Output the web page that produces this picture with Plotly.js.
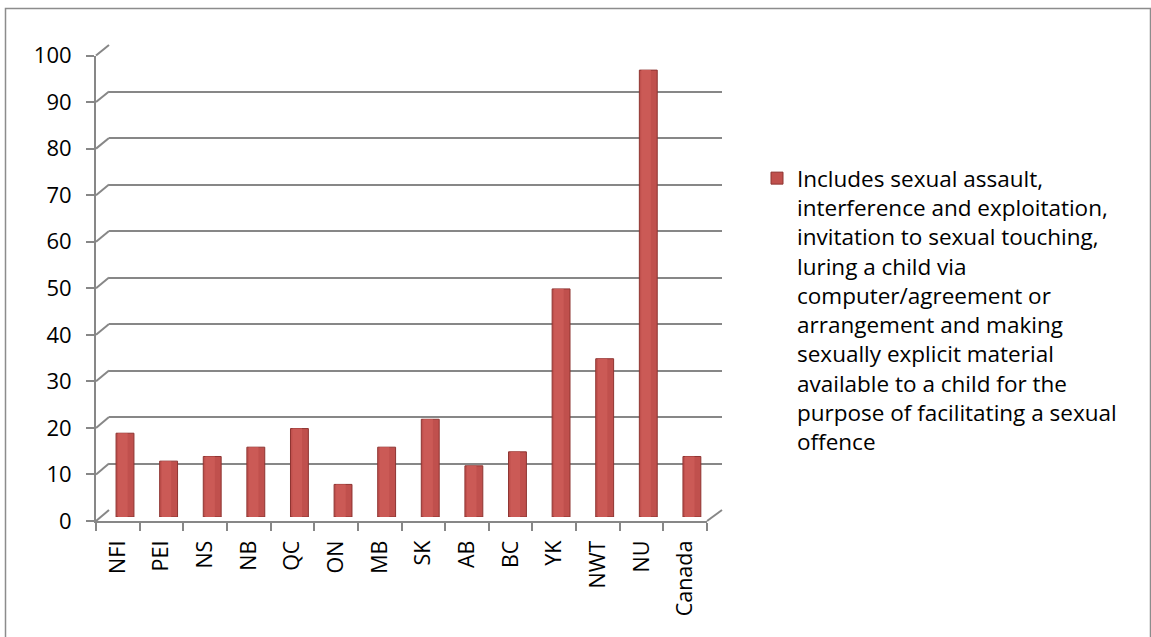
<!DOCTYPE html>
<html>
<head>
<meta charset="utf-8">
<script src="https://cdn.plot.ly/plotly-3.0.1.min.js"></script>
<style>html,body{margin:0;padding:0;background:#fff;}#chart{width:1151px;height:637px;}</style>
</head>
<body>
<div id="chart"></div>
<script>
// ---- data ----
var categories = ["NFI","PEI","NS","NB","QC","ON","MB","SK","AB","BC","YK","NWT","NU","Canada"];
var values = [18, 12, 13, 15, 19, 7, 15, 21, 11, 14, 49, 34, 96, 13];
var seriesName = "Includes sexual assault,<br>interference and exploitation,<br>invitation to sexual touching,<br>luring a child via<br>computer/agreement or<br>arrangement and making<br>sexually explicit material<br>available to a child for the<br>purpose of facilitating a sexual<br>offence";
var yTicks = [0,10,20,30,40,50,60,70,80,90,100];

// ---- layout helpers (pixel -> paper) ----
var W = 1151, H = 637;
function px(x){ return x / W; }
function py(y){ return 1 - y / H; }
var FONT = "Open Sans, Liberation Sans, sans-serif";
var GRID = "#878787";

var idx = categories.map(function(c,i){return i;});

var traces = [
  // helper (invisible) trace for the front axis
  {x: idx, y: values, xaxis:"x", yaxis:"y", type:"scatter", mode:"markers",
   marker:{opacity:0}, showlegend:false, hoverinfo:"skip"},
  // helper (invisible) trace for back wall
  {x: idx, y: values, xaxis:"x2", yaxis:"y2", type:"scatter", mode:"markers",
   marker:{opacity:0}, showlegend:false, hoverinfo:"skip"},
  // cylinder body
  {x: idx, y: values, xaxis:"x3", yaxis:"y3", type:"bar", name: seriesName,
   width: 0.41, marker:{color:"#C0504D", line:{color:"#8E3431", width:1}},
   hoverinfo:"x+y"},
  // cylinder highlight
  {x: idx, y: values, xaxis:"x3", yaxis:"y3", type:"bar", showlegend:false,
   width: 0.22, offset: -0.16, marker:{color:"#CB5A56", line:{width:0}}, hoverinfo:"skip"}
];

// decorative 3D connectors
var shapes = [];
var frontY0 = 521, frontY100 = 55.5, backY0 = 510, backY100 = 45;
yTicks.forEach(function(t){
  var yf = frontY0 + (frontY100-frontY0)*t/100;
  var yb = backY0 + (backY100-backY0)*t/100;
  shapes.push({type:"line", xref:"paper", yref:"paper",
    x0:px(96), y0:py(yf), x1:px(109), y1:py(yb), line:{color:GRID, width:2}});
});
shapes.push({type:"line", xref:"paper", yref:"paper",
  x0:px(707), y0:py(frontY0), x1:px(722), y1:py(backY0), line:{color:GRID, width:2}});
// outer chart border
shapes.push({type:"rect", xref:"paper", yref:"paper",
  x0:px(5.5), y0:py(645), x1:px(1150.5), y1:py(8.5), line:{color:"#8C8C8C", width:1.5}});

var layout = {
  width: W, height: H,
  margin:{l:0, r:0, t:0, b:0},
  paper_bgcolor:"#ffffff", plot_bgcolor:"rgba(0,0,0,0)",
  barmode:"overlay",
  font:{family:FONT, size:22, color:"#000"},
  showlegend:true,
  legend:{x:px(757), y:py(157), xanchor:"left", yanchor:"top", valign:"top",
    font:{family:FONT, size:22.5, color:"#000"}, bgcolor:"rgba(0,0,0,0)", borderwidth:0,
    tracegroupgap:0},
  // front axes
  xaxis:{domain:[px(96), px(707)], anchor:"y", type:"linear", range:[-0.5, 13.5],
    tickmode:"array", tickvals: idx, ticktext: categories, tickangle:-90,
    ticks:"", showgrid:false, zeroline:false, showline:true, linecolor:GRID, linewidth:2,
    tickfont:{family:FONT, size:21.5, color:"#000"},
    minor:{tickmode:"array", tickvals: idx.concat([categories.length]).map(function(i){return i-0.5;}),
      ticks:"outside", ticklen:8, tickcolor:GRID, tickwidth:2, showgrid:false},
    ticklabelstandoff:9, fixedrange:true},
  yaxis:{domain:[py(frontY0), py(frontY100)], anchor:"x", range:[0,100],
    tickmode:"array", tickvals: yTicks, ticks:"outside", ticklen:8, tickcolor:GRID, tickwidth:2,
    tickfont:{family:FONT, size:22, color:"#000"},
    showgrid:false, zeroline:false, showline:true, linecolor:GRID, linewidth:2,
    ticklabelstandoff:10, fixedrange:true},
  // back wall
  xaxis2:{domain:[px(109), px(722)], anchor:"y2", range:[-0.5,13.5], visible:false, fixedrange:true},
  yaxis2:{domain:[py(backY0), py(backY100)], anchor:"x2", range:[0,100],
    tickmode:"array", tickvals: yTicks, showticklabels:false, ticks:"",
    showgrid:true, gridcolor:GRID, gridwidth:2, zeroline:false, showline:false, fixedrange:true},
  // bars
  xaxis3:{domain:[px(103.2), px(713.7)], anchor:"y3", range:[-0.5,13.5], visible:false, fixedrange:true},
  yaxis3:{domain:[py(517), py(51.5)], anchor:"x3", range:[0,100], visible:false, fixedrange:true},
  shapes: shapes
};

Plotly.newPlot("chart", traces, layout, {displayModeBar:false, staticPlot:true});
</script>
</body>
</html>
